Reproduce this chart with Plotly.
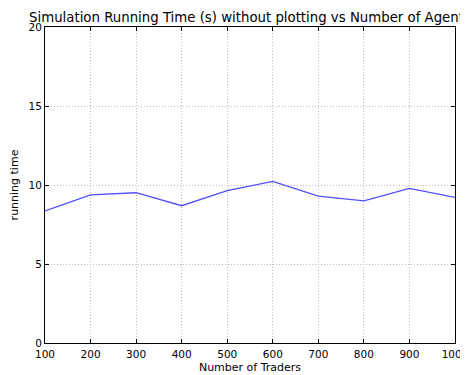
import plotly.graph_objects as go

num_traders = [100, 200, 300, 400, 500, 600, 700, 800, 900, 1000]
running_time = [8.36, 9.37, 9.51, 8.69, 9.64, 10.23, 9.30, 8.99, 9.79, 9.22]
x_ticks = [100, 200, 300, 400, 500, 600, 700, 800, 900, 1000]
y_ticks = [0, 5, 10, 15, 20]

# The page body has an 8px default margin, so the figure is sized/offset for it.
FIG_W, FIG_H = 460, 367

fig = go.Figure()
fig.add_trace(go.Scatter(
    x=num_traders, y=running_time, mode="lines",
    line=dict(color="#5050ff", width=1.3), showlegend=False,
))

axis_common = dict(
    showline=True, linecolor="black", linewidth=1, mirror="ticks",
    ticks="inside", ticklen=4, tickcolor="black", tickwidth=1,
    showgrid=True, gridcolor="#bdbdbd", griddash="1px,2px", gridwidth=1,
    zeroline=False, tickfont=dict(size=10.5, color="black"),
    automargin=False, ticklabeloverflow="allow",
)

fig.update_layout(
    width=FIG_W, height=FIG_H,
    margin=dict(l=37, r=13, t=19, b=32),
    paper_bgcolor="white", plot_bgcolor="white",
    font=dict(family="DejaVu Sans", color="black"),
    title=dict(
        text="Simulation Running Time (s) without plotting vs Number of Agents",
        x=0.5, xref="paper", xanchor="center",
        y=1 - 9.5 / FIG_H, yref="container", yanchor="middle",
        font=dict(size=13.3, color="black"),
    ),
    xaxis=dict(
        range=[100, 1000], tickvals=x_ticks,
        title=dict(text="Number of Traders", font=dict(size=11), standoff=4),
        ticklabelstandoff=1,
        **axis_common,
    ),
    yaxis=dict(
        range=[0, 20], tickvals=y_ticks,
        title=dict(text="running time", font=dict(size=11), standoff=10),
        ticklabelstandoff=0,
        **axis_common,
    ),
)

fig.write_html("out.html")
